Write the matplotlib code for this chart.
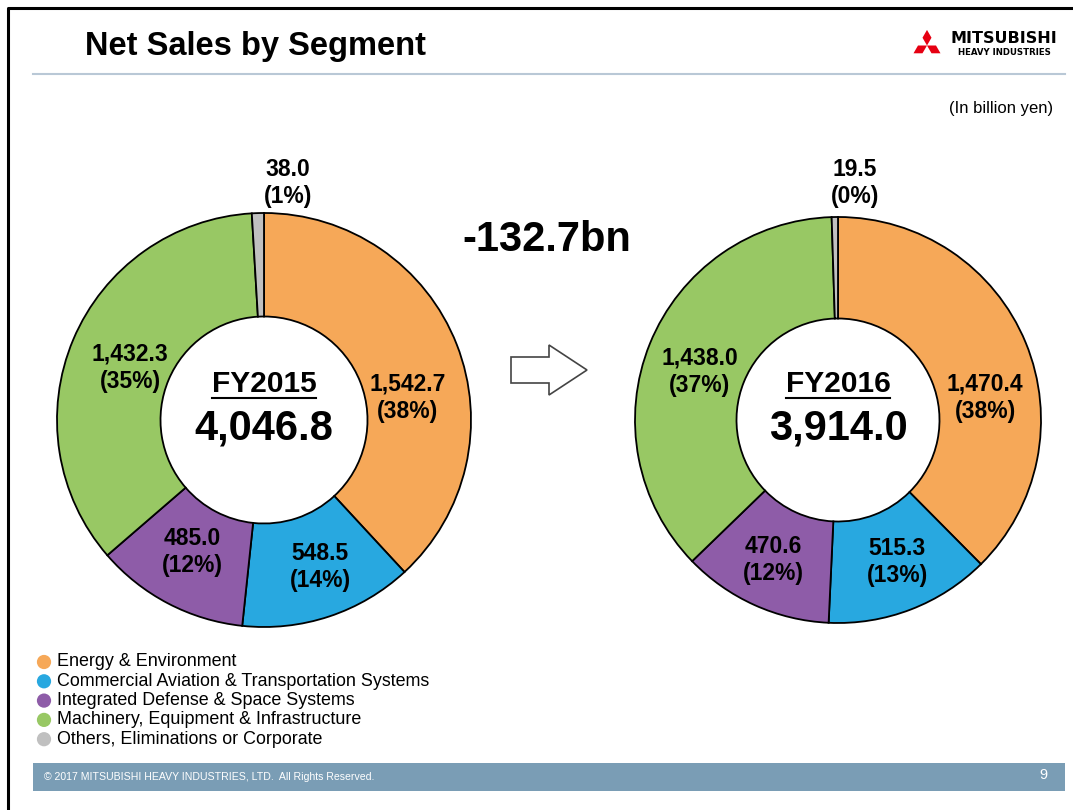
import numpy as np
import matplotlib
matplotlib.use("Agg")
import matplotlib.pyplot as plt
from matplotlib.patches import Polygon, Rectangle

plt.rcParams['font.family'] = ['Liberation Sans', 'DejaVu Sans']

# data (billion yen)
segments = ["Energy & Environment",
            "Commercial Aviation & Transportation Systems",
            "Integrated Defense & Space Systems",
            "Machinery, Equipment & Infrastructure",
            "Others, Eliminations or Corporate"]
colors = ["#f6a858", "#28a8e0", "#8e5ca8", "#98c864", "#c0c0c0"]

fy15_vals = [1542.7, 548.5, 485.0, 1432.3, 38.0]
fy15_pct = [38, 14, 12, 35, 1]
fy15_total = 4046.8

fy16_vals = [1470.4, 515.3, 470.6, 1438.0, 19.5]
fy16_pct = [38, 13, 12, 37, 0]
fy16_total = 3914.0

change = -132.7

W, H = 1073, 810
fig = plt.figure(figsize=(W / 100, H / 100), dpi=100)
ax = fig.add_axes([0, 0, 1, 1])


def Y(y):
    # pixel row (from top) -> data y
    return H - y


def set_lims():
    ax.set_xlim(0, W)
    ax.set_ylim(0, H)
    ax.set_aspect("auto")


def donut(vals, pct, total, year, cx, cy, r, label_pos, small_pos):
    ax.pie(vals, colors=colors, startangle=90, counterclock=False,
           center=(cx, Y(cy)), radius=r,
           wedgeprops=dict(width=r * 0.5, edgecolor="black", linewidth=1.3))
    set_lims()
    for i, (v, p) in enumerate(zip(vals, pct)):
        if i == len(vals) - 1:
            x, y = small_pos
        else:
            x, y = label_pos[i]
        ax.text(x, Y(y), f"{v:,.1f}\n({p}%)", ha="center", va="center",
                fontsize=16.5, fontweight="bold", linespacing=1.25)
    t = ax.text(cx, Y(cy - 36), year, ha="center", va="center",
                fontsize=21.5, fontweight="bold")
    fig.canvas.draw()
    bb = t.get_window_extent().transformed(ax.transData.inverted())
    ax.plot([bb.x0, bb.x1], [Y(cy - 22), Y(cy - 22)], color="black", lw=1.5)
    ax.text(cx, Y(cy + 8), f"{total:,.1f}", ha="center", va="center",
            fontsize=30, fontweight="bold")


donut(fy15_vals, fy15_pct, fy15_total, "FY2015", 264, 420, 207,
      [(408, 398), (320, 567), (192, 552), (130, 368)], (288, 183))
donut(fy16_vals, fy16_pct, fy16_total, "FY2016", 838, 420, 203,
      [(985, 398), (897, 562), (773, 560), (700, 372)], (855, 183))

# change text and arrow
ax.text(547, Y(240), f"{change:,.1f}bn", ha="center", va="center",
        fontsize=30, fontweight="bold")
ax.arrow(511, Y(370), 76, 0, width=26, head_width=50, head_length=38,
         length_includes_head=True, fc="white", ec="#444444", lw=1.2)

# title, rule, unit
ax.text(85, Y(46), "Net Sales by Segment", ha="left", va="center",
        fontsize=23.5, fontweight="bold")
ax.plot([33, 1065], [Y(74), Y(74)], color="#b9c8d6", lw=1.5)
ax.text(1053, Y(108), "(In billion yen)", ha="right", va="center", fontsize=12)

# logo
lx, ly, s = 927, 45.5, 9.0
for th in (90, 210, 330):
    a1, a2 = np.radians(th - 30), np.radians(th + 30)
    u1 = np.array([np.cos(a1), np.sin(a1)]) * s
    u2 = np.array([np.cos(a2), np.sin(a2)]) * s
    o = np.array([lx, Y(ly)])
    ax.add_patch(Polygon([o, o + u1, o + u1 + u2, o + u2], closed=True,
                         fc="#e60012", ec="none"))
ax.text(1004, Y(43), "MITSUBISHI", ha="center", va="baseline", fontsize=11.5,
        fontweight="heavy", fontfamily="DejaVu Sans")
ax.text(1004, Y(55), "HEAVY INDUSTRIES", ha="center", va="baseline",
        fontsize=6.2, fontweight="heavy", fontfamily="DejaVu Sans")

# legend
for i, (name, c) in enumerate(zip(segments, colors)):
    y = 662 + i * 19.3
    ax.scatter([44], [Y(y)], s=105, color=c, edgecolors="none")
    ax.text(57, Y(y), name, ha="left", va="center", fontsize=12.9)

# footer
ax.add_patch(Rectangle((33, Y(791)), 1032, 28, fc="#7a9db5", ec="none"))
ax.text(44, Y(777), "\u00a9 2017 MITSUBISHI HEAVY INDUSTRIES, LTD.  All Rights Reserved.",
        ha="left", va="center", fontsize=7.6, color="white")
ax.text(1043, Y(775), "9", ha="center", va="center", fontsize=10.5, color="white")

# page frame
ax.plot([8, 8, W], [0, Y(8), Y(8)], color="black", lw=2.2)

set_lims()
ax.axis("off")

fig.savefig("out.png", dpi=100)
